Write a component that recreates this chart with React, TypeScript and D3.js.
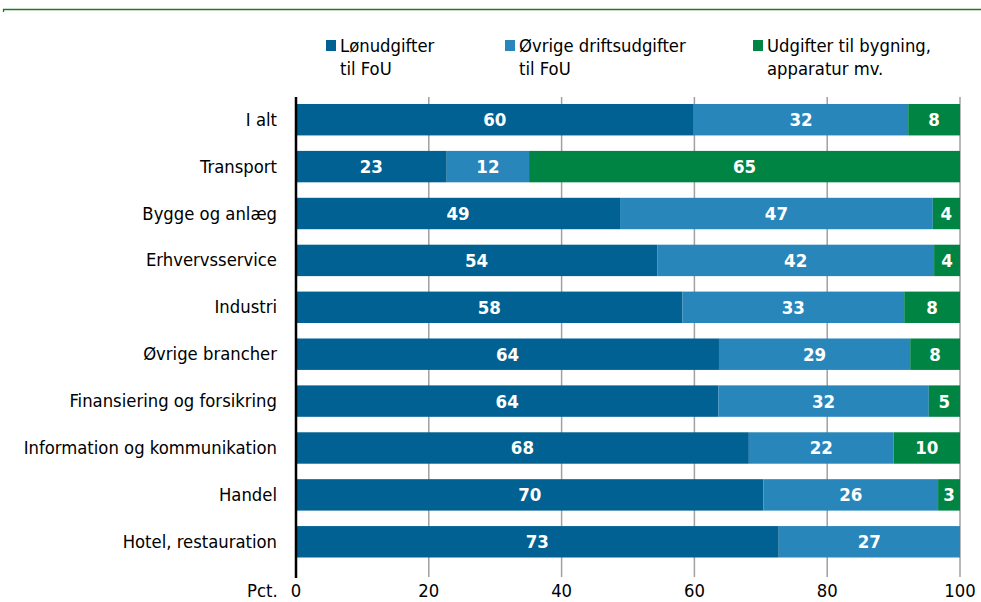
import React from "react";
import * as d3 from "d3";

const categories = [
  "I alt",
  "Transport",
  "Bygge og anlæg",
  "Erhvervsservice",
  "Industri",
  "Øvrige brancher",
  "Finansiering og forsikring",
  "Information og kommunikation",
  "Handel",
  "Hotel, restauration",
];
const lon = [59.9, 22.7, 48.8, 54.4, 58.2, 63.7, 63.6, 68.2, 70.4, 72.7];
const drift = [32.3, 12.4, 47.1, 41.7, 33.4, 28.8, 31.7, 21.8, 26.3, 27.3];
const bygning = [7.8, 64.9, 4.1, 3.9, 8.4, 7.5, 4.7, 10.0, 3.3, 0];
const seriesNames = [
  ["Lønudgifter", "til FoU"],
  ["Øvrige driftsudgifter", "til FoU"],
  ["Udgifter til bygning,", "apparatur mv."],
];
const colors = ["#006192", "#2886bb", "#008443"];
const ticks = [0, 20, 40, 60, 80, 100];

const FONT = "'Liberation Sans Narrow', 'DejaVu Sans Condensed', 'Noto Sans', sans-serif";

export default function App() {
  const W = 981, H = 602;
  const x0 = 296, x1 = 960;
  const x = d3.scaleLinear().domain([0, 100]).range([x0, x1]);
  const y = d3
    .scaleBand<string>()
    .domain(categories)
    .range([96.5, 565])
    .paddingInner(0.33)
    .paddingOuter(0.16);
  const series = [lon, drift, bygning];
  const rows = categories.map((c, i) => ({ c, v: series.map((s) => s[i]) }));
  const legendX = [326, 505, 753];
  const fs = 18.3;

  return (
    <svg width={W} height={H} style={{ position: "absolute", left: 0, top: 0, background: "#fff" }} fontFamily={FONT}>
      <line x1={3} x2={981} y1={9.5} y2={9.5} stroke="#1f7a1f" strokeWidth={1.3} />
      <line x1={3.5} x2={3.5} y1={9} y2={12} stroke="#1f7a1f" strokeWidth={1.3} />
      {seriesNames.map((n, i) => (
        <g key={i}>
          <rect x={legendX[i]} y={40} width={10} height={11} fill={colors[i]} />
          <text x={legendX[i] + 14} y={52} fontSize={fs} fill="#000">{n[0]}</text>
          <text x={legendX[i] + 14} y={75} fontSize={fs} fill="#000">{n[1]}</text>
        </g>
      ))}
      {ticks.slice(1).map((t) => (
        <line key={t} x1={x(t)} x2={x(t)} y1={97} y2={577} stroke="#a0a0a0" strokeWidth={1.5} />
      ))}
      {rows.map((r) => {
        let acc = 0;
        return (
          <g key={r.c}>
            {r.v.map((v, j) => {
              const start = acc;
              acc += v;
              if (v <= 0) return null;
              const xs = x(start), xe = x(start + v);
              return (
                <g key={j}>
                  <rect x={xs} y={y(r.c)} width={xe - xs} height={y.bandwidth()} fill={colors[j]} />
                  <text
                    x={(xs + xe) / 2}
                    y={y(r.c)! + y.bandwidth() / 2 + 6.5}
                    textAnchor="middle"
                    fontSize={18.5}
                    fontWeight="bold"
                    fill="#fff"
                  >
                    {Math.round(v)}
                  </text>
                </g>
              );
            })}
            <text x={277} y={y(r.c)! + y.bandwidth() / 2 + 6} textAnchor="end" fontSize={fs} fill="#000">
              {r.c}
            </text>
          </g>
        );
      })}
      <line x1={x0} x2={x0} y1={97} y2={578} stroke="#000" strokeWidth={2.5} />
      {ticks.map((t) => (
        <text key={t} x={x(t)} y={597} textAnchor="middle" fontSize={fs} fill="#000">{t}</text>
      ))}
      <text x={247} y={597} fontSize={fs} fill="#000">Pct.</text>
    </svg>
  );
}
